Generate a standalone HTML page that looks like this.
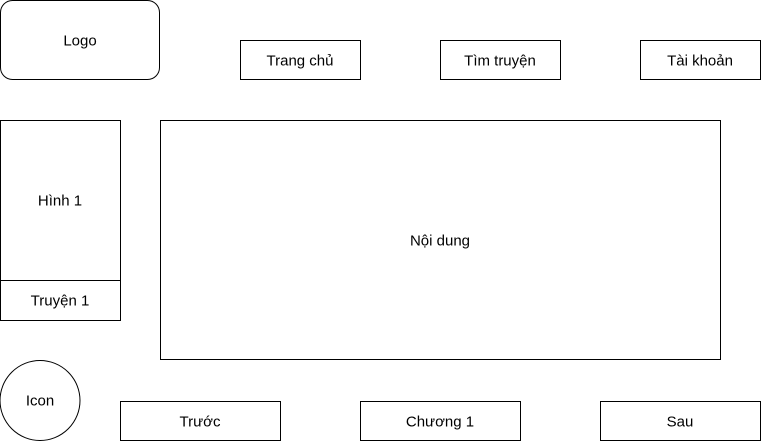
<!DOCTYPE html>
<html><head><meta charset="utf-8"><style>
html,body{margin:0;padding:0;background:#fff;}
svg{display:block;}
text{font-family:"Liberation Sans",Arial,sans-serif;font-size:15px;fill:#000;text-anchor:middle;dominant-baseline:central;}
rect,circle{fill:#fff;stroke:#000;stroke-width:1;}
</style></head><body>
<svg width="761" height="442" viewBox="0 0 761 442" xmlns="http://www.w3.org/2000/svg">
<rect x="0.5" y="0.5" width="159" height="79" rx="12" ry="12"/>
<text x="80" y="41">Logo</text>
<rect x="240.5" y="40.5" width="120" height="39"/>
<text x="300" y="61">Trang chủ</text>
<rect x="440.5" y="40.5" width="120" height="39"/>
<text x="500" y="61">Tìm truyện</text>
<rect x="640.5" y="40.5" width="120" height="39"/>
<text x="700" y="61">Tài khoản</text>
<rect x="0.5" y="120.5" width="120" height="160"/>
<text x="60" y="201">Hình 1</text>
<rect x="0.5" y="280.5" width="120" height="40"/>
<text x="60" y="301">Truyện 1</text>
<rect x="160.5" y="120.5" width="560" height="239"/>
<text x="440" y="241">Nội dung</text>
<circle cx="40" cy="400.5" r="40"/>
<text x="40" y="401">Icon</text>
<rect x="120.5" y="401.5" width="160" height="39"/>
<text x="200" y="422">Trước</text>
<rect x="360.5" y="401.5" width="160" height="39"/>
<text x="440" y="422">Chương 1</text>
<rect x="600.5" y="401.5" width="160" height="39"/>
<text x="680" y="422">Sau</text>
</svg>
</body></html>
